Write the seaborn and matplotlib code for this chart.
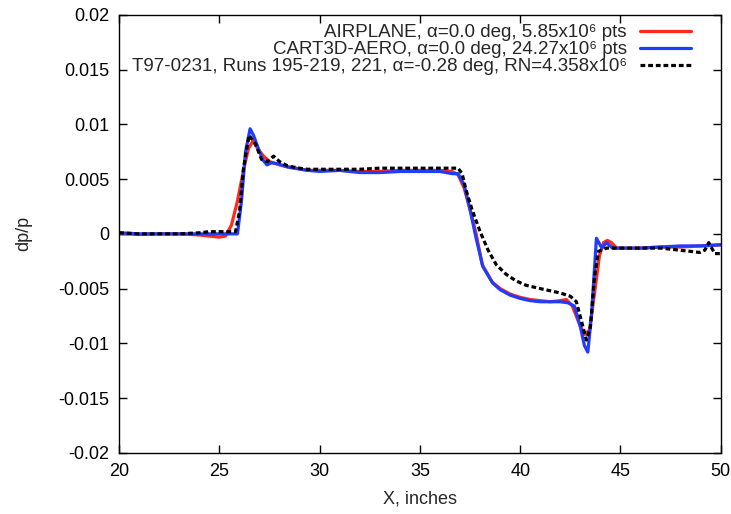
import numpy as np
import pandas as pd
import matplotlib
matplotlib.use("Agg")
import matplotlib.pyplot as plt
from matplotlib.ticker import FuncFormatter
import seaborn as sns

# ---------------- data ----------------
air_x = [20, 21, 22, 23, 24, 24.5, 25.0, 25.3, 25.6, 25.9, 26.2, 26.45, 26.68, 26.9, 27.2, 27.5,
         28.0, 28.5, 29.4, 30, 31, 32, 33, 34, 35, 36, 36.6, 36.9, 37.2, 37.5, 37.8, 38.1, 38.6,
         39.0, 39.5, 40.0, 40.5, 41.0, 41.5, 42.0, 42.3, 42.6, 42.9, 43.2, 43.45, 43.7, 43.95,
         44.15, 44.35, 44.55, 44.8, 45.5, 46, 47, 48, 49, 50]
air_y = [0.0, -0.00005, 0.0, 0.0, -0.0001, -0.0002, -0.0003, -0.0002, 0.0008, 0.003, 0.0058,
         0.0078, 0.0085, 0.0078, 0.0071, 0.0066, 0.0063, 0.0061, 0.0058, 0.0058, 0.0058, 0.0057,
         0.0057, 0.0058, 0.0058, 0.0058, 0.0057, 0.0054, 0.0042, 0.0022, 0.0, -0.0028, -0.0044,
         -0.0050, -0.0055, -0.0058, -0.0060, -0.0061, -0.0062, -0.0061, -0.0060, -0.0066, -0.0080,
         -0.0092, -0.0088, -0.0055, -0.0020, -0.0008, -0.0006, -0.0008, -0.0013, -0.0013, -0.0013,
         -0.0012, -0.0012, -0.0011, -0.0010]

cart_x = [20, 21, 22, 23, 24, 25, 25.5, 25.9, 26.1, 26.3, 26.53, 26.7, 26.9, 27.15, 27.37, 27.6,
          27.9, 28.4, 29.4, 30, 31, 32, 33, 34, 35, 36, 36.3, 36.6, 36.9, 37.2, 37.5, 37.8, 38.14,
          38.63, 39.0, 39.5, 40.0, 40.5, 41.0, 42.0, 42.4, 42.7, 43.0, 43.2, 43.37, 43.55, 43.8,
          44.07, 44.3, 44.6, 45, 46, 47, 48, 49, 50]
cart_y = [0.0001, 0.0, 0.0, 0.0, 0.0, 0.0, 0.0, 0.0, 0.003, 0.0075, 0.0096, 0.009, 0.008, 0.0068,
          0.0063, 0.0065, 0.0064, 0.0061, 0.0058, 0.0057, 0.0058, 0.0056, 0.0056, 0.0057, 0.0057,
          0.0057, 0.0056, 0.0055, 0.0055, 0.0045, 0.0022, -0.0004, -0.0030, -0.0045, -0.0051,
          -0.0056, -0.0059, -0.0061, -0.0062, -0.0062, -0.0063, -0.0066, -0.0085, -0.0102, -0.0108,
          -0.0075, -0.0004, -0.0013, -0.0008, -0.0013, -0.0013, -0.0013, -0.0012, -0.0011, -0.0011,
          -0.0010]

t97_x = [20, 21, 22, 23, 24, 24.5, 25.0, 25.5, 25.8, 26.0, 26.2, 26.48, 26.8, 27.1, 27.4, 27.7,
         28.0, 28.4, 29.0, 29.4, 30, 31, 32, 33, 34, 35, 36, 36.6, 36.9, 37.1, 37.3, 37.6, 38.0,
         38.4, 38.8, 39.3, 39.8, 40.3, 41.0, 41.5, 42.0, 42.5, 42.8, 43.0, 43.3, 43.5, 43.7, 43.9,
         44.3, 45, 46, 47, 47.5, 48, 48.5, 48.95, 49.2, 49.4, 49.55, 49.7, 50]
t97_y = [0.0001, 0.0, 0.0, 0.0, 0.0001, 0.0002, 0.0002, 0.0002, 0.0002, 0.002, 0.006, 0.009,
         0.0082, 0.0068, 0.0066, 0.0071, 0.0066, 0.0062, 0.0060, 0.0059, 0.0059, 0.0059, 0.0059,
         0.0060, 0.0060, 0.0060, 0.0060, 0.0060, 0.0060, 0.0055, 0.0040, 0.0022, 0.0002, -0.0015,
         -0.0028, -0.0037, -0.0043, -0.0047, -0.0050, -0.0052, -0.0054, -0.0057, -0.0062, -0.0076,
         -0.0097, -0.0085, -0.0040, -0.0016, -0.0013, -0.0013, -0.0013, -0.0013, -0.0014, -0.0015,
         -0.0016, -0.0017, -0.0015, -0.0008, -0.0013, -0.0018, -0.0018]

labels = [
    "AIRPLANE, α=0.0 deg, 5.85x10⁶ pts",
    "CART3D-AERO, α=0.0 deg, 24.27x10⁶ pts",
    "T97-0231, Runs 195-219, 221, α=-0.28 deg, RN=4.358x10⁶",
]
x_ticks = [20, 25, 30, 35, 40, 45, 50]
y_ticks = [-0.02, -0.015, -0.01, -0.005, 0, 0.005, 0.01, 0.015, 0.02]

# ---------------- plot ----------------
sns.set_style("ticks")
plt.rcParams["font.family"] = ["Liberation Sans", "DejaVu Sans"]

fig = plt.figure(figsize=(7.31, 5.14), dpi=100)
ax = fig.add_axes([0.163, 0.119, 0.823, 0.852])

sns.lineplot(x=air_x, y=air_y, ax=ax, color="#ff2a1a", lw=2.3, label=labels[0],
             sort=False, estimator=None)
sns.lineplot(x=cart_x, y=cart_y, ax=ax, color="#1f3cff", lw=2.3, label=labels[1],
             sort=False, estimator=None)
sns.lineplot(x=t97_x, y=t97_y, ax=ax, color="black", lw=2.3, label=labels[2],
             sort=False, estimator=None, linestyle=(0, (1.5, 0.9)))

ax.set_xlim(20, 50)
ax.set_ylim(-0.02, 0.02)
ax.set_xticks(x_ticks)
ax.set_yticks(y_ticks)
ax.yaxis.set_major_formatter(FuncFormatter(lambda v, p: "%g" % round(v, 4)))
ax.tick_params(direction="in", length=6, width=1, top=True, right=True,
               labelsize=13, colors="black", pad=7)
for s in ax.spines.values():
    s.set_visible(True)
    s.set_linewidth(1)
    s.set_color("black")

ax.set_xlabel("X, inches", fontsize=13, labelpad=8)
ax.set_ylabel("dp/p", fontsize=13, labelpad=19)

ax.legend(loc="upper right", frameon=False, markerfirst=False, fontsize=13.5,
          handlelength=2.75, handletextpad=0.7, labelspacing=0.0,
          borderaxespad=0.2, bbox_to_anchor=(0.97, 1.005))

fig.savefig("out.png", dpi=100)
